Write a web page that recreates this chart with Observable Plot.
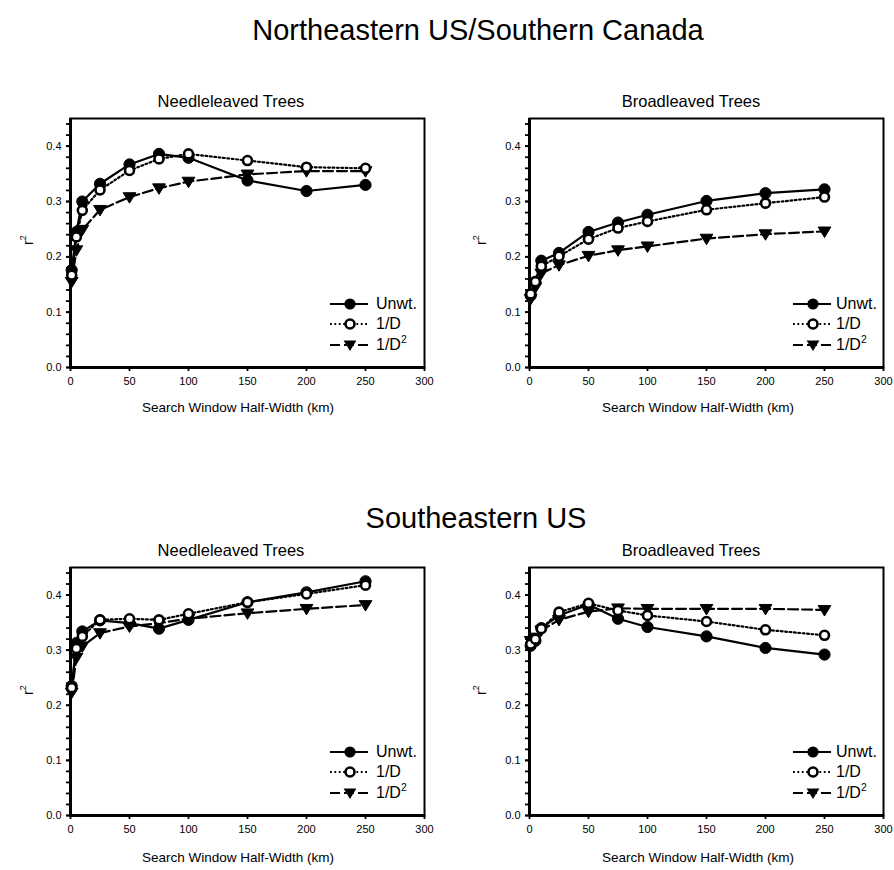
<!DOCTYPE html>
<html><head><meta charset="utf-8">
<script src="https://cdn.jsdelivr.net/npm/d3@7"></script>
<script src="https://cdn.jsdelivr.net/npm/@observablehq/plot@0.6"></script>
<style>
body{margin:0;background:#fff;}
#root{position:relative;width:894px;height:870px;font-family:"Liberation Sans",Arial,Helvetica,sans-serif;color:#000;overflow:hidden;}
.abs{position:absolute;white-space:nowrap;line-height:1;}
.abs sup{font-size:65%;line-height:0;position:relative;top:-0.1em;}
</style></head><body><div id="root"></div>
<script>
// ---- data ----
const windowKm = [1, 5, 10, 25, 50, 75, 100, 150, 200, 250];
const seriesNames = ["Unwt.", "1/D", "1/D2"];

const neNeedleUnwt  = [0.176, 0.245, 0.300, 0.332, 0.367, 0.386, 0.379, 0.338, 0.319, 0.330];
const neNeedleInvD  = [0.167, 0.236, 0.284, 0.321, 0.356, 0.377, 0.386, 0.374, 0.362, 0.360];
const neNeedleInvD2 = [0.155, 0.212, 0.249, 0.285, 0.308, 0.324, 0.336, 0.349, 0.355, 0.355];

const neBroadUnwt  = [0.130, 0.155, 0.193, 0.207, 0.245, 0.262, 0.276, 0.301, 0.315, 0.322];
const neBroadInvD  = [0.133, 0.155, 0.183, 0.201, 0.232, 0.252, 0.264, 0.285, 0.297, 0.308];
const neBroadInvD2 = [0.124, 0.145, 0.170, 0.185, 0.202, 0.212, 0.219, 0.233, 0.241, 0.246];

const seNeedleUnwt  = [0.235, 0.313, 0.334, 0.354, 0.349, 0.339, 0.355, 0.387, 0.405, 0.425];
const seNeedleInvD  = [0.232, 0.303, 0.325, 0.355, 0.357, 0.355, 0.366, 0.387, 0.402, 0.418];
const seNeedleInvD2 = [0.223, 0.286, 0.307, 0.331, 0.343, 0.349, 0.357, 0.367, 0.375, 0.382];

const seBroadUnwt  = [0.308, 0.317, 0.340, 0.363, 0.383, 0.357, 0.342, 0.325, 0.304, 0.292];
const seBroadInvD  = [0.311, 0.320, 0.339, 0.369, 0.385, 0.372, 0.363, 0.352, 0.337, 0.327];
const seBroadInvD2 = [0.317, 0.323, 0.336, 0.355, 0.370, 0.376, 0.375, 0.375, 0.375, 0.373];

const xTicks = [0, 50, 100, 150, 200, 250, 300];
const yTicks = [0, 0.1, 0.2, 0.3, 0.4];
const yMinorTicks = [0, 0.02, 0.04, 0.06, 0.08, 0.1, 0.12, 0.14, 0.16, 0.18, 0.2, 0.22, 0.24, 0.26, 0.28, 0.3, 0.32, 0.34, 0.36, 0.38, 0.4, 0.42, 0.44];
const xDomain = [0, 300];
const yDomain = [0, 0.45];

const regionTitles = ["Northeastern US/Southern Canada", "Southeastern US"];
const panelTitles = ["Needleleaved Trees", "Broadleaved Trees"];
const xLabel = "Search Window Half-Width (km)";

// ---- helpers ----
const FONT = '"Liberation Sans", Arial, Helvetica, sans-serif';
const triangleDown = {
  draw(ctx, size) {
    const r = Math.sqrt(size / Math.PI);
    ctx.moveTo(-1.1 * r, -0.75 * r);
    ctx.lineTo(1.1 * r, -0.75 * r);
    ctx.lineTo(0, 1.05 * r);
    ctx.closePath();
  }
};
const styles = [
  {dash: null, dot: {r: 5.6, fill: "black", stroke: "black", strokeWidth: 1}},
  {dash: "1.8,2.6", dot: {r: 4.5, fill: "white", stroke: "black", strokeWidth: 2.6}},
  {dash: "10,4", dot: {r: 5.8, fill: "black", stroke: "black", strokeWidth: 1, symbol: triangleDown}}
];

const root = document.getElementById("root");

function addText(html, {cx, left, baseline, size, align = "center", rotate = false}) {
  const d = document.createElement("div");
  d.className = "abs";
  d.innerHTML = html;
  d.style.fontSize = size + "px";
  d.style.fontFamily = FONT;
  if (rotate) {
    d.style.left = (cx - 30) + "px";
    d.style.top = (baseline - size / 2) + "px";
    d.style.width = "60px";
    d.style.height = size + "px";
    d.style.textAlign = "center";
    d.style.transform = "rotate(-90deg)";
  } else if (align === "center") {
    d.style.left = (cx - 300) + "px";
    d.style.width = "600px";
    d.style.textAlign = "center";
    d.style.top = (baseline - 0.8465 * size) + "px";
  } else {
    d.style.left = left + "px";
    d.style.top = (baseline - 0.8465 * size) + "px";
  }
  root.appendChild(d);
}

function legendSwatch(i) {
  const s = styles[i];
  let marker;
  if (i === 0) marker = `<circle cx="22" cy="10" r="5.6" fill="black"/>`;
  else if (i === 1) marker = `<circle cx="22" cy="10" r="4.5" fill="white" stroke="black" stroke-width="2.6"/>`;
  else marker = `<path d="M${22 - 6.4},${10 - 4.4}L${22 + 6.4},${10 - 4.4}L22,${10 + 6.1}Z" fill="black"/>`;
  return `<svg width="44" height="20" style="overflow:visible"><line x1="2" x2="40" y1="10" y2="10" stroke="black" stroke-width="2.2" ${s.dash ? `stroke-dasharray="${s.dash}"` : ""}/>${marker}</svg>`;
}

function panel({left, top, height, values, legendLeft, legendTextLeft}) {
  const rows = [];
  values.forEach((arr, s) => arr.forEach((v, i) => rows.push({km: windowKm[i], r2: v, s})));
  const marks = [];
  for (let s = 0; s < 3; s++) {
    const d = rows.filter(r => r.s === s);
    marks.push(Plot.line(d, {x: "km", y: "r2", stroke: "black", strokeWidth: 2.2, strokeDasharray: styles[s].dash || undefined}));
  }
  for (const s of [2, 0, 1]) {
    const d = rows.filter(r => r.s === s);
    marks.push(Plot.dot(d, {x: "km", y: "r2", ...styles[s].dot}));
  }
  const mTop = 18, mBottom = 31, mLeft = 70, mRight = 10, width = 434;
  const plot = Plot.plot({
    width, height, marginTop: mTop, marginBottom: mBottom, marginLeft: mLeft, marginRight: mRight,
    x: {domain: xDomain},
    y: {domain: yDomain},
    style: {fontFamily: FONT, fontSize: "11px", color: "black", background: "white", overflow: "visible"},
    marks: [
      Plot.frame({stroke: "black", strokeWidth: 2}),
      Plot.axisY(yMinorTicks, {tickSize: 4, strokeWidth: 1.8, tickFormat: () => "", label: null}),
      Plot.axisY(yTicks, {tickSize: 4, strokeWidth: 1.8, tickPadding: 5, tickFormat: d3.format(".1f"), fontSize: 11, label: null}),
      Plot.axisX(xTicks, {tickSize: 4, strokeWidth: 1.8, tickPadding: 6, tickFormat: d => String(d), fontSize: 11, label: null}),
      Plot.ruleX([xDomain[0]], {stroke: "black", strokeWidth: 3}),
      Plot.ruleY([yDomain[0]], {stroke: "black", strokeWidth: 3}),
      ...marks
    ]
  });
  plot.style.position = "absolute";
  plot.style.left = left + "px";
  plot.style.top = top + "px";
  root.appendChild(plot);

  const frameLeft = left + mLeft;
  const frameBottom = top + height - mBottom;
  const offsets = [63, 43, 22];
  const labels = ["Unwt.", "1/D", "1/D<sup>2</sup>"];
  for (let s = 0; s < 3; s++) {
    const yc = frameBottom - offsets[s];
    const sw = document.createElement("div");
    sw.className = "abs";
    sw.style.left = (frameLeft + legendLeft) + "px";
    sw.style.top = (yc - 10) + "px";
    sw.innerHTML = legendSwatch(s);
    root.appendChild(sw);
    addText(labels[s], {left: frameLeft + legendTextLeft, baseline: yc + 5.7, size: 16, align: "left"});
  }
}

panel({left: 0, top: 100, height: 298, values: [neNeedleUnwt, neNeedleInvD, neNeedleInvD2], legendLeft: 258, legendTextLeft: 306});
panel({left: 459, top: 100, height: 298, values: [neBroadUnwt, neBroadInvD, neBroadInvD2], legendLeft: 262, legendTextLeft: 307});
panel({left: 0, top: 549, height: 297, values: [seNeedleUnwt, seNeedleInvD, seNeedleInvD2], legendLeft: 258, legendTextLeft: 306});
panel({left: 459, top: 549, height: 297, values: [seBroadUnwt, seBroadInvD, seBroadInvD2], legendLeft: 262, legendTextLeft: 307});

// ---- texts ----
addText(regionTitles[0], {cx: 478, baseline: 41, size: 29});
addText(regionTitles[1], {cx: 476, baseline: 529, size: 29});
addText(panelTitles[0], {cx: 231, baseline: 107, size: 16.5});
addText(panelTitles[1], {cx: 691, baseline: 107, size: 16.5});
addText(panelTitles[0], {cx: 231, baseline: 556, size: 16.5});
addText(panelTitles[1], {cx: 691, baseline: 556, size: 16.5});
addText(xLabel, {cx: 238, baseline: 412, size: 13.5});
addText(xLabel, {cx: 698, baseline: 412, size: 13.5});
addText(xLabel, {cx: 238, baseline: 862, size: 13.5});
addText(xLabel, {cx: 698, baseline: 862, size: 13.5});
for (const [cx, cy] of [[28, 240], [481, 240], [28, 690], [481, 690]]) {
  addText("r<sup>2</sup>", {cx, baseline: cy, size: 14, rotate: true});
}
</script></body></html>
